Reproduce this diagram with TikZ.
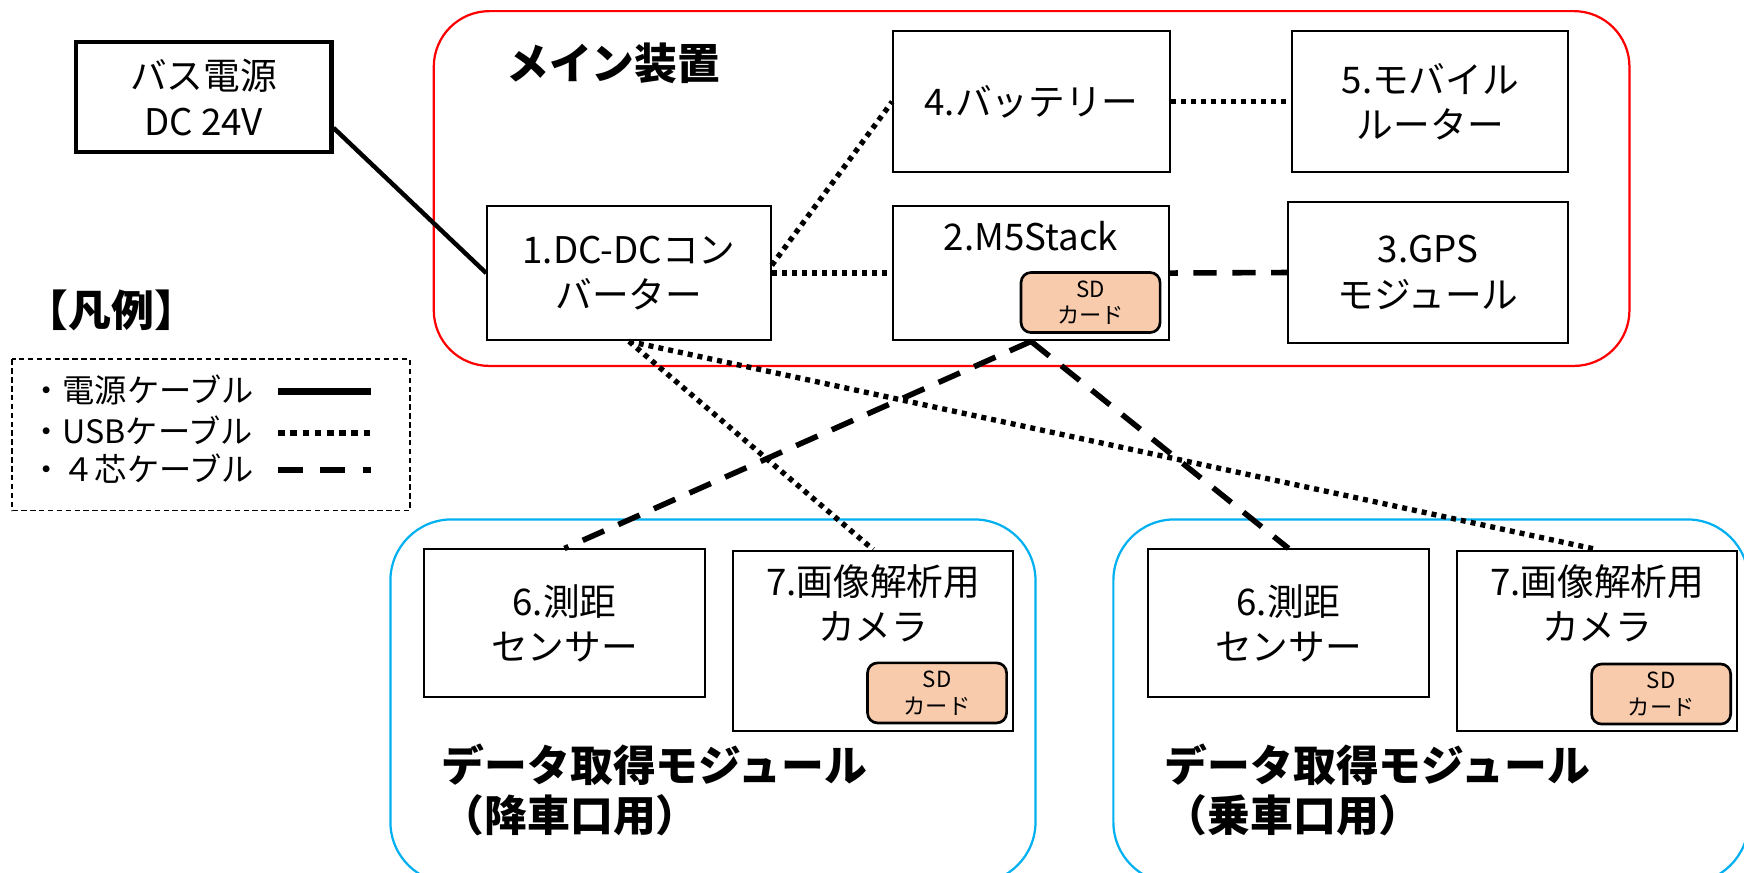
\documentclass[tikz,border=0pt]{standalone}
\usepackage{fontspec}
\setmainfont{Noto Sans CJK JP}
\usetikzlibrary{calc}
\definecolor{redline}{HTML}{FF0000}
\definecolor{blueline}{HTML}{00B0F0}
\definecolor{sdfill}{HTML}{F8CBAD}
\newcommand{\boxfont}{\fontsize{33}{41}\selectfont}
\newcommand{\sdfont}{\fontsize{20}{24}\selectfont}
\newcommand{\ttlfont}{\fontsize{38.5}{45}\selectfont\bfseries}
\newcommand{\legfont}{\fontsize{29}{34}\selectfont}
\tikzset{
  box/.style={draw, line width=1.8pt, fill=white, inner sep=0pt, align=center, font=\boxfont},
  busbox/.style={box, line width=3.8pt},
  sdbox/.style={draw, line width=2.4pt, fill=sdfill, rounded corners=9pt, inner sep=0pt, align=center, font=\sdfont},
  lbl/.style={inner sep=0pt, align=center, font=\boxfont},
  ttl/.style={inner sep=0pt, align=left, font=\ttlfont, anchor=west},
  leg/.style={inner sep=0pt, anchor=west, font=\legfont},
  redgroup/.style={draw=redline, line width=2pt, rounded corners=50pt},
  bluegroup/.style={draw=blueline, line width=2pt, rounded corners=55pt},
  power/.style={line width=4pt},
  usb/.style={line width=4.8pt, dash pattern=on 4.5pt off 4.5pt},
  fourc/.style={line width=5pt, dash pattern=on 21pt off 14pt},
  legpower/.style={line width=5.5pt},
  legusb/.style={line width=5.5pt, dash pattern=on 6pt off 5pt},
  legfourc/.style={line width=5.5pt, dash pattern=on 22pt off 16pt},
}
\begin{document}
\begin{tikzpicture}[x=1pt,y=-1pt]
\clip (0,0) rectangle (1568,784);
\fill[white] (0,0) rectangle (1568,784);

% group containers
\draw[redgroup] (390,10) rectangle (1465,329);
\draw[bluegroup] (351,467) rectangle (931,794);
\draw[bluegroup] (1001,467) rectangle (1572,794);

% titles
\node[ttl] (maintitle) at (455,57) {メイン装置};
\node[ttl] (modL) at (397,710) {データ取得モジュール\\（降車口用）};
\node[ttl] (modR) at (1047,710) {データ取得モジュール\\（乗車口用）};
\node[inner sep=0pt, font=\ttlfont] (legtitle) at (100,279) {【凡例】};

% boxes
\node[busbox, minimum width=230pt, minimum height=99pt] (bus) at (183,87.5) {バス電源\\DC 24V};
\node[box, minimum width=255pt, minimum height=121pt] (dc) at (565.5,245.5) {1.DC-DCコン\\バーター};
\node[box, minimum width=249pt, minimum height=127pt] (bat) at (927.5,91.5) {4.バッテリー};
\node[box, minimum width=248pt, minimum height=127pt] (router) at (1286,91.5) {5.モバイル\\ルーター};
\node[box, minimum width=248pt, minimum height=121pt] (m5) at (927,245.5) {};
\node[box, minimum width=252pt, minimum height=126pt] (gps) at (1284,245) {3.GPS\\モジュール};
\node[box, minimum width=253pt, minimum height=133pt] (sensL) at (507.5,560.5) {6.測距\\センサー};
\node[box, minimum width=252pt, minimum height=162pt] (camL) at (785,576) {};
\node[box, minimum width=253pt, minimum height=133pt] (sensR) at (1158.5,560.5) {6.測距\\センサー};
\node[box, minimum width=252pt, minimum height=162pt] (camR) at (1436,576) {};

% labels inside boxes
\node[lbl] (m5lbl) at (927,212) {2.M5Stack};
\node[lbl] (camLlbl) at (785,542.5) {7.画像解析用\\カメラ};
\node[lbl] (camRlbl) at (1436,542.5) {7.画像解析用\\カメラ};

% SD cards
\node[sdbox, minimum width=125pt, minimum height=54pt] (m5sd) at (980.5,272) {SD\\カード};
\node[sdbox, minimum width=125pt, minimum height=54pt] (camLsd) at (842.5,623) {SD\\カード};
\node[sdbox, minimum width=125pt, minimum height=54pt] (camRsd) at (1493.5,624) {SD\\カード};

% connectors
\draw[power] ([yshift=-27.5pt]bus.east) -- (dc.west);
\draw[usb] (dc.east) -- (m5.west);
\draw[usb] ([yshift=7pt]dc.east) -- (bat.west);
\draw[usb] (bat.east) -- (router.west);
\draw[fourc, dash phase=14pt] (m5.east) -- (gps.west);
\draw[fourc] (m5.south) -- (sensL.north);
\draw[fourc] (m5.south) -- (sensR.north);
\draw[usb] (dc.south) -- (camL.north);
\draw[usb] (dc.south) -- (camR.north);

% legend
\draw[line width=1.5pt, dash pattern=on 5pt off 3pt] (11,323) rectangle (368.5,459);
\node[leg] (legA) at (27,351) {・電源ケーブル};
\node[leg] (legB) at (27,387) {・USBケーブル};
\node[leg] (legC) at (27,421) {・４芯ケーブル};
\coordinate (la1) at (250,352);
\coordinate (la2) at (334,352);
\coordinate (lb1) at (250,389.5);
\coordinate (lb2) at (334,389.5);
\coordinate (lc1) at (250,422.5);
\coordinate (lc2) at (334,422.5);
\draw[legpower] (la1) -- (la2);
\draw[legusb] (lb1) -- (lb2);
\draw[legfourc] (lc1) -- (lc2);
\end{tikzpicture}
\end{document}
